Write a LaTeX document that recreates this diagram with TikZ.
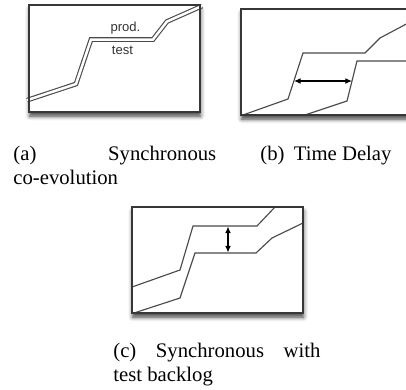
\documentclass[tikz,border=0pt]{standalone}
\usepackage{fontspec}
\setmainfont{Liberation Serif}
\setsansfont{Liberation Sans}
\usetikzlibrary{arrows.meta,shadows.blur}
\definecolor{frameg}{RGB}{55,55,55}
\definecolor{curveg}{RGB}{75,75,75}
\tikzset{
  panel/.style={draw=frameg, line width=0.8pt, fill=white, blur shadow={shadow xshift=0.3pt, shadow yshift=-2pt, shadow blur radius=2pt, shadow opacity=75}},
  rim/.style={draw=frameg, line width=0.8pt},
  curve/.style={draw=curveg, line width=0.55pt},
  twin/.style={curve, double=white, double distance=1.2pt},
  lag/.style={{Latex[length=3.2pt,width=2.8pt]}-{Latex[length=3.2pt,width=2.8pt]}, line width=0.55pt, draw=black},
  lbl/.style={font=\sffamily\fontsize{6.3}{7}\selectfont, text=black!80, inner sep=0pt},
  capt/.style={font=\fontsize{10}{11.6}\selectfont, inner sep=0pt, anchor=base west, align=justify},
}

\begin{document}
\begin{tikzpicture}[x=0.483pt, y=-0.483pt]
  \clip (0,0) rectangle (406,389);

  % (a) synchronous co-evolution
  \draw[panel] (29,5) rectangle (200,112);
  \draw[twin] (27,100.2) -- (76,84) -- (91,39.5) -- (153,39.5) -- (167,21.5) -- (202,6);
  \draw[rim] (29,5) rectangle (200,112);
  \node[lbl] (prod) at (125.5,28) {prod.};
  \node[lbl] (test) at (122.5,50) {test};

  % (b) time delay
  \draw[panel] (241,9) rectangle (412,115);
  \draw[curve] (243,115) -- (288,99) -- (303,53) -- (365,53) -- (380,38) -- (412,21);
  \draw[curve] (305,115) -- (347,101) -- (357,61) -- (412,61);
  \draw[rim] (241,9) rectangle (412,115);
  \coordinate (b-prod) at (294,81);
  \coordinate (b-test) at (352,81);
  \draw[lag] (b-prod) -- (b-test);

  % (c) synchronous with test backlog
  \draw[panel] (132,207) rectangle (303,313);
  \draw[curve] (132,287) -- (180,270) -- (193,226) -- (257,226) -- (275,207);
  \draw[curve] (134,313) -- (180,298) -- (195,253) -- (256,253) -- (272,238) -- (303,223);
  \draw[rim] (132,207) rectangle (303,313);
  \coordinate (c-prod) at (228,226.5);
  \coordinate (c-test) at (228,252.5);
  \draw[lag] (c-prod) -- (c-test);

  % captions
  \node[capt, text width=98pt] (cap-a) at (13,160) {(a) Synchronous\linebreak co-evolution};
  \node[capt, anchor=base] (cap-b) at (326,160) {(b)\hspace{4.5pt}Time Delay};
  \node[capt, text width=100pt] (cap-c) at (113,357) {(c) Synchronous with\linebreak test backlog};
\end{tikzpicture}
\end{document}
